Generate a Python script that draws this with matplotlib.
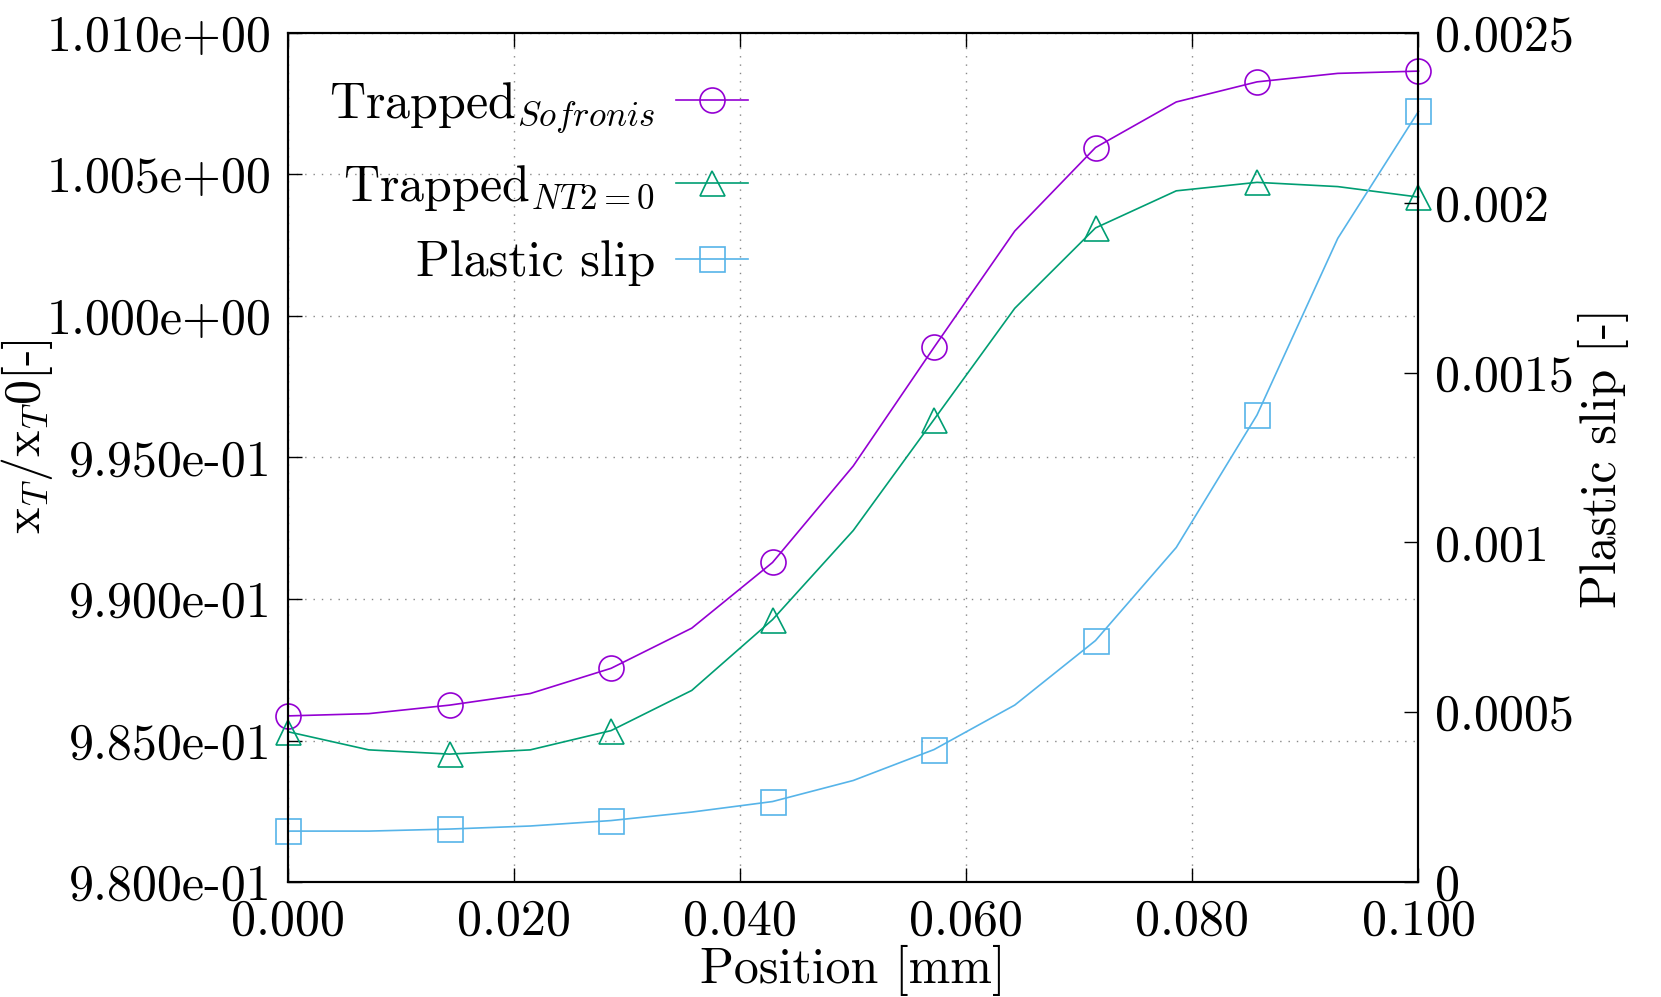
import matplotlib
matplotlib.use("Agg")
import matplotlib.pyplot as plt
from matplotlib.ticker import FuncFormatter, MultipleLocator
import numpy as np

plt.rcParams['font.family'] = 'cmr10'
plt.rcParams['mathtext.fontset'] = 'cm'
plt.rcParams['axes.unicode_minus'] = False
plt.rcParams['font.size'] = 36

# Positions [mm]
position = np.linspace(0.0, 0.1, 15)

# Trapped ratio (left axis)
trapped_sofronis = [0.98587, 0.98595, 0.98625, 0.98666, 0.98755, 0.98897, 0.99129, 0.99470,
                    0.99889, 1.00300, 1.00595, 1.00756, 1.00827, 1.00857, 1.00865]
trapped_nt2 = [0.98531, 0.98467, 0.98452, 0.98467, 0.98535, 0.98677, 0.98927, 0.99242,
               0.99634, 1.00027, 1.00311, 1.00442, 1.00472, 1.00457, 1.00420]
# Plastic slip (right axis)
plastic_slip = [0.000150, 0.000150, 0.000156, 0.000165, 0.000181, 0.000206, 0.000237, 0.000299,
                0.000390, 0.000521, 0.000711, 0.000985, 0.001375, 0.001895, 0.002269]

c_purple = '#9400d3'
c_green = '#009e73'
c_blue = '#56b4e9'

fig = plt.figure(figsize=(16.61, 9.97), dpi=100)
ax = fig.add_axes([0.1734, 0.1153, 0.6806, 0.8517])
ax2 = ax.twinx()

l1, = ax.plot(position, trapped_sofronis, color=c_purple, lw=1.2, marker='o', ms=18,
              mfc='none', mew=1.2, markevery=2, clip_on=False)
l2, = ax.plot(position, trapped_nt2, color=c_green, lw=1.2, marker='^', ms=18,
              mfc='none', mew=1.2, markevery=2, clip_on=False)
l3, = ax2.plot(position, plastic_slip, color=c_blue, lw=1.2, marker='s', ms=18,
               mfc='none', mew=1.2, markevery=2, clip_on=False)

ax.set_xlim(0, 0.1)
ax.set_ylim(0.980, 1.010)
ax2.set_ylim(0, 0.0025)

ax.xaxis.set_major_locator(MultipleLocator(0.02))
ax.yaxis.set_major_locator(MultipleLocator(0.005))
ax2.yaxis.set_major_locator(MultipleLocator(0.0005))
ax.xaxis.set_major_formatter(FuncFormatter(lambda v, p: '%.3f' % v))
ax.yaxis.set_major_formatter(FuncFormatter(lambda v, p: '%.3e' % v))
ax2.yaxis.set_major_formatter(FuncFormatter(lambda v, p: '%g' % round(v, 6)))

ax.tick_params(axis='x', direction='in', top=True, length=10, width=1, pad=12)
ax.tick_params(axis='y', direction='in', right=False, length=10, width=1, pad=12)
ax2.tick_params(axis='y', direction='in', length=10, width=1, pad=12)

ax.grid(True, color='#888888', linestyle=(0, (1, 5)), linewidth=1)

for a in (ax, ax2):
    for s in a.spines.values():
        s.set_linewidth(1.5)

ax.set_xlabel('Position [mm]', labelpad=0)
ax.set_ylabel(r'x$_T$/x$_T$0[-]')
ax.yaxis.set_label_coords(-0.206, 0.525)
ax2.set_ylabel('Plastic slip [-]')
ax2.yaxis.set_label_coords(1.141, 0.5)

ax2.legend([l1, l2, l3],
           [r'Trapped$_{Sofronis}$', r'Trapped$_{NT2=0}$', 'Plastic slip'],
           loc='upper left', bbox_to_anchor=(0.005, 0.985), markerfirst=False,
           frameon=False, handlelength=1.45, handletextpad=0.42, labelspacing=0.55,
           borderaxespad=0.3)

fig.savefig('out.png', dpi=100)
